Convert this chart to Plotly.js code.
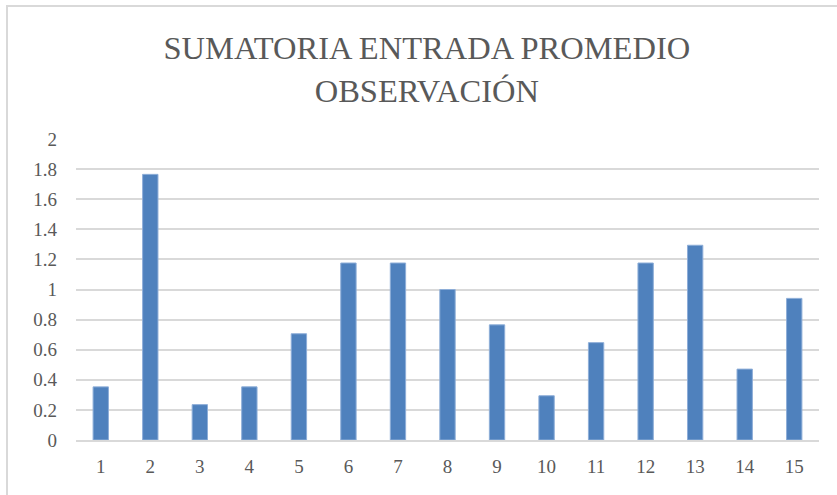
<!DOCTYPE html>
<html>
<head>
<meta charset="utf-8">
<script src="https://cdn.plot.ly/plotly-3.0.1.min.js"></script>
<style>
  body { margin:0; background:#fff; }
  #chart { position:absolute; left:0; top:0; width:837px; height:495px; }
  #frame { position:absolute; left:6px; top:5px; width:900px; height:600px; border:2px solid #d9d9d9; pointer-events:none; }
</style>
</head>
<body>
<div id="chart"></div>
<div id="frame"></div>
<script>
const observaciones = ['1','2','3','4','5','6','7','8','9','10','11','12','13','14','15'];
const promedio = [0.353, 1.765, 0.235, 0.353, 0.706, 1.176, 1.176, 1.0, 0.765, 0.294, 0.647, 1.176, 1.294, 0.471, 0.941];
const yTicks = [0, 0.2, 0.4, 0.6, 0.8, 1, 1.2, 1.4, 1.6, 1.8, 2];
const yTickText = ['0','0.2','0.4','0.6','0.8','1','1.2','1.4','1.6','1.8','2'];

const font = 'Liberation Serif, Times New Roman, serif';

Plotly.newPlot('chart', [{
  type:'bar',
  x: observaciones,
  y: promedio,
  marker:{ color:'#4F81BD', line:{ color:'#8EAED8', width:1 } },
  hoverinfo:'x+y'
}], {
  width:837, height:495,
  margin:{ t:139, b:55, l:76, r:18 },
  paper_bgcolor:'#fff',
  plot_bgcolor:'#fff',
  bargap:0.69,
  showlegend:false,
  title:{
    text:'SUMATORIA ENTRADA PROMEDIO<br>OBSERVACIÓN',
    font:{ family:font, size:32.5, color:'#595959' },
    x:0.51, xref:'container', xanchor:'center',
    y:0.88, yref:'container', yanchor:'middle'
  },
  xaxis:{
    type:'category',
    tickfont:{ family:font, size:19, color:'#595959' },
    showgrid:false,
    showline:true, linecolor:'#d9d9d9', linewidth:2,
    ticks:'', ticklabelstandoff:8
  },
  yaxis:{
    range:[0, 2],
    tickvals:yTicks, ticktext:yTickText,
    tickfont:{ family:font, size:19, color:'#595959' },
    gridcolor:'#d9d9d9', gridwidth:2,
    zeroline:false, showline:false,
    ticks:'', ticklabelstandoff:18
  }
}, { displayModeBar:false, staticPlot:true });
</script>
</body>
</html>
